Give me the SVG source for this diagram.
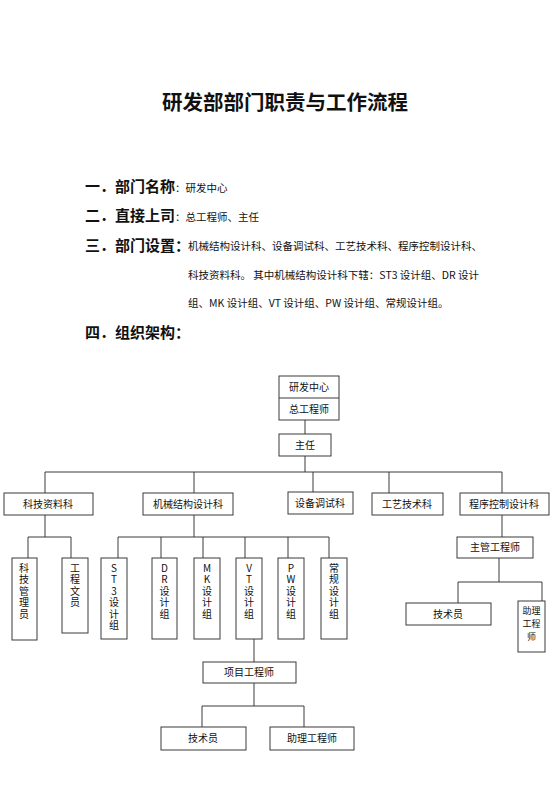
<svg xmlns="http://www.w3.org/2000/svg" width="560" height="792" viewBox="0 0 560 792">
<style>
.bg{fill:#fff}
.box{fill:#fff;stroke:#3a3a3a;stroke-width:1}
.ln{fill:none;stroke:#3a3a3a;stroke-width:1}
text{font-family:"Noto Sans CJK SC","Noto Sans",sans-serif;fill:#111}
.title{font-size:20.5px;font-weight:bold;text-anchor:middle}
.h{font-size:15px;font-weight:bold}
.b{font-size:10.5px;font-weight:normal}
.t{font-size:10px;text-anchor:middle}
.s{font-size:9px;text-anchor:middle}
.v{font-size:10px;writing-mode:vertical-rl;text-orientation:upright;letter-spacing:1.5px}
</style>
<rect class="bg" x="0" y="0" width="560" height="792"/>
<text class="title" x="285" y="110">研发部部门职责与工作流程</text>
<text class="h" x="85" y="192">一．部门名称<tspan class="b">：研发中心</tspan></text>
<text class="h" x="85" y="221">二．直接上司<tspan class="b">：总工程师、主任</tspan></text>
<text class="h" x="85" y="251">三．部门设置：</text>
<text class="b" x="188" y="250">机械结构设计科、设备调试科、工艺技术科、程序控制设计科、</text>
<text class="b" x="188" y="279">科技资料科。 其中机械结构设计科下辖：ST3 设计组、DR 设计</text>
<text class="b" x="188" y="307">组、MK 设计组、VT 设计组、PW 设计组、常规设计组。</text>
<text class="h" x="85" y="338">四．组织架构：</text>

<g id="connectors">
<path class="ln" d="M305 420V434M305 456V472M45 472H502M45 472V493M194 472V493M313 472V493M389 472V493M502 472V493"/>
<path class="ln" d="M45 515V537M28 537H71M28 537V558M71 537V558"/>
<path class="ln" d="M194 515V537M118 537H329M118 537V558M161 537V558M203 537V558M245 537V558M288 537V558M329 537V558"/>
<path class="ln" d="M502 515V537M499 558V582M458 582H542M458 582V603M542 582V601"/>
<path class="ln" d="M254 639V662M254 683V706M202 706H304M202 706V727M304 706V727"/>
</g>

<g id="n-center"><rect class="box" x="279" y="376" width="60" height="44"/><line class="ln" x1="279" y1="398" x2="339" y2="398"/><text class="t" x="309" y="391">研发中心</text><text class="t" x="309" y="413">总工程师</text></g>
<g id="n-zhuren"><rect class="box" x="279" y="434" width="52" height="22"/><text class="t" x="305" y="449">主任</text></g>

<g id="n-kjzl"><rect class="box" x="4" y="493" width="89" height="22"/><text class="t" x="48" y="508">科技资料科</text></g>
<g id="n-jxjg"><rect class="box" x="143" y="493" width="90" height="22"/><text class="t" x="188" y="508">机械结构设计科</text></g>
<g id="n-sbts"><rect class="box" x="288" y="492" width="65" height="22"/><text class="t" x="320" y="507">设备调试科</text></g>
<g id="n-gyjs"><rect class="box" x="372" y="493" width="71" height="22"/><text class="t" x="407" y="508">工艺技术科</text></g>
<g id="n-cxkz"><rect class="box" x="460" y="493" width="89" height="22"/><text class="t" x="504" y="508">程序控制设计科</text></g>

<g id="n-kjgly"><rect class="box" x="12" y="558" width="25" height="82"/><text class="v" x="24" y="563">科技管理员</text></g>
<g id="n-gcwy"><rect class="box" x="62" y="558" width="26" height="75"/><text class="v" x="75" y="563">工程文员</text></g>
<g id="n-st3"><rect class="box" x="101" y="558" width="26" height="81"/><text class="v" x="114" y="563">ST3设计组</text></g>
<g id="n-dr"><rect class="box" x="152" y="558" width="25" height="81"/><text class="v" x="164.5" y="563">DR设计组</text></g>
<g id="n-mk"><rect class="box" x="194" y="558" width="26" height="81"/><text class="v" x="207" y="563">MK设计组</text></g>
<g id="n-vt"><rect class="box" x="236" y="558" width="26" height="81"/><text class="v" x="249" y="563">VT设计组</text></g>
<g id="n-pw"><rect class="box" x="278" y="558" width="26" height="81"/><text class="v" x="291" y="563">PW设计组</text></g>
<g id="n-cg"><rect class="box" x="321" y="558" width="26" height="81"/><text class="v" x="334" y="563">常规设计组</text></g>

<g id="n-zggcs"><rect class="box" x="457" y="537" width="76" height="21"/><text class="t" x="495" y="551">主管工程师</text></g>
<g id="n-jsy1"><rect class="box" x="406" y="603" width="85" height="22"/><text class="t" x="448" y="618">技术员</text></g>
<g id="n-zlgcs1"><rect class="box" x="518" y="601" width="27" height="51"/><text class="s"><tspan x="531.5" y="613.5">助理</tspan><tspan x="531.5" dy="13.2">工程</tspan><tspan x="531.5" dy="13.2">师</tspan></text></g>

<g id="n-xmgcs"><rect class="box" x="203" y="662" width="93" height="21"/><text class="t" x="249" y="676">项目工程师</text></g>
<g id="n-jsy2"><rect class="box" x="161" y="727" width="85" height="23"/><text class="t" x="203" y="742">技术员</text></g>
<g id="n-zlgcs2"><rect class="box" x="270" y="727" width="84" height="23"/><text class="t" x="312" y="742">助理工程师</text></g>
</svg>
